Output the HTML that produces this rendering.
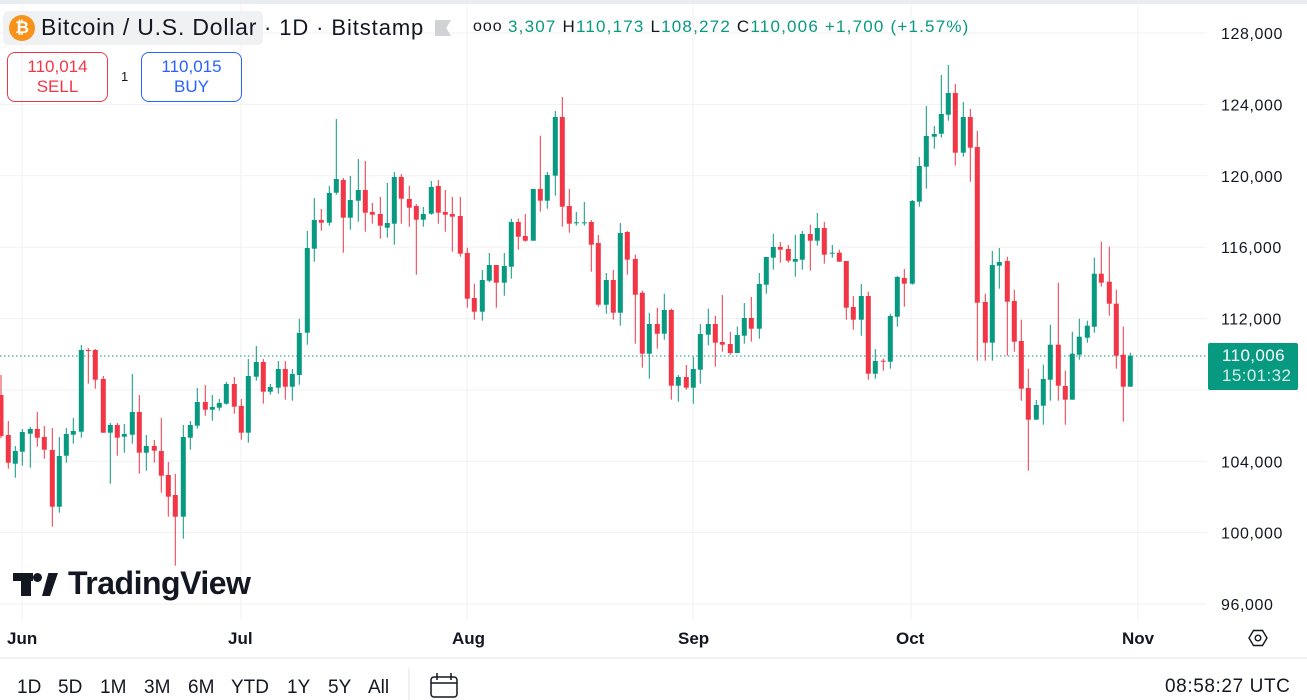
<!DOCTYPE html>
<html><head><meta charset="utf-8"><style>
body{margin:0;width:1307px;height:700px;overflow:hidden;background:#fff;font-family:"Liberation Sans",sans-serif;position:relative}
.abs{position:absolute;white-space:nowrap}
</style></head><body>
<svg id="c" width="1307" height="700" style="position:absolute;left:0;top:0"></svg>
<div class="abs" style="left:0;top:0;width:1307px;height:4px;background:#e9ecf1"></div>
<div class="abs" style="left:3px;top:11px;width:260px;height:34px;background:#f0f1f3;border-radius:5px"></div>
<div class="abs" style="left:9px;top:15px;width:26px;height:26px;border-radius:50%;background:#f7931a;color:#fff;font-weight:bold;font-size:17px;text-align:center;line-height:26px">₿</div>
<div class="abs" style="left:41px;top:14px;font-size:23px;letter-spacing:0.8px;color:#131722">Bitcoin / U.S. Dollar</div>
<div class="abs" style="left:264px;top:15px;font-size:22px;letter-spacing:0.9px;color:#131722">· 1D · Bitstamp</div>
<div class="abs" style="left:435px;top:20px;width:16px;height:16px;background:#d0d2d6;clip-path:polygon(0 0,100% 0,70% 50%,100% 100%,0 100%)"></div>
<div class="abs" style="left:473px;top:18px;font-size:16px;color:#131722;letter-spacing:1px">ooo</div>
<div class="abs" style="left:508px;top:17px;font-size:17px;letter-spacing:1.2px;color:#089981">3,307 <span style="color:#131722">H</span>110,173 <span style="color:#131722">L</span>108,272 <span style="color:#131722">C</span>110,006 +1,700 (+1.57%)</div>
<div class="abs" style="left:7px;top:52px;width:101px;height:50px;border:1px solid #f23645;border-radius:8px;color:#f23645;text-align:center;font-size:17px;line-height:20px;padding-top:4px;box-sizing:border-box">110,014<br>SELL</div>
<div class="abs" style="left:121px;top:69px;font-size:13px;color:#131722">1</div>
<div class="abs" style="left:141px;top:52px;width:101px;height:50px;border:1px solid #2962ff;border-radius:8px;color:#2962ff;text-align:center;font-size:17px;line-height:20px;padding-top:4px;box-sizing:border-box">110,015<br>BUY</div>
<div class="abs" style="left:1208px;top:343px;width:90px;height:47px;background:#089981;border-radius:2px;color:#fff;font-size:17px;letter-spacing:0.4px;line-height:20px;padding:3px 0 0 14px;box-sizing:border-box">110,006<br><span style="color:#d6f0eb">15:01:32</span></div>
<div class="abs" style="left:68px;top:565px;font-size:32px;font-weight:bold;color:#131722;letter-spacing:-0.5px">TradingView</div>
<div class="abs" style="left:13px;top:573px;width:20px;height:8px;background:#131722"></div>
<div class="abs" style="left:21px;top:573px;width:10px;height:23px;background:#131722"></div>
<div class="abs" style="left:33px;top:573px;width:9px;height:9px;border-radius:50%;background:#131722"></div>
<div class="abs" style="left:42px;top:573px;width:16px;height:23px;background:#131722;clip-path:polygon(40% 0,100% 0,50% 100%,0 100%)"></div>
<div class="abs" style="left:0;top:682px;font-size:19px;color:#131722">
<span class="abs" style="left:17px;top:-5px">1D</span><span class="abs" style="left:58px;top:-5px">5D</span><span class="abs" style="left:100px;top:-5px">1M</span><span class="abs" style="left:144px;top:-5px">3M</span><span class="abs" style="left:188px;top:-5px">6M</span><span class="abs" style="left:231px;top:-5px">YTD</span><span class="abs" style="left:287px;top:-5px">1Y</span><span class="abs" style="left:328px;top:-5px">5Y</span><span class="abs" style="left:368px;top:-5px">All</span></div>
<div class="abs" style="left:1165px;top:676px;font-size:19px;letter-spacing:0.6px;color:#131722">08:58:27 UTC</div>
<script>
const G='#089981',R='#f23645';
const segs=[
[0,330,[[3,'R',195,318,135,325],[25,'R',315,398,273,416],[46,'G',363,401,348,443],[67,'G',306,365,297,407],[91,'G',297,311,291,413],[112,'R',297,323,246,350],[133,'R',321,359,288,386],[157,'R',360,530,294,590],[178,'G',378,530,321,548],[199,'G',312,377,294,398],[220,'G',303,314,264,341],[244,'G',60,305,45,323],[265,'R',60,62,54,161],[286,'R',60,149,57,176],[310,'R',147,308,138,308],[331,'G',285,308,279,461],[352,'R',285,323,279,377],[373,'G',312,320,282,368],[397,'G',246,314,132,341],[418,'R',246,368,195,431],[439,'G',348,368,315,422],[463,'R',348,362,330,398],[484,'R',363,437,264,488],[505,'R',435,500,396,560],[526,'R',495,560,432,707],[550,'G',321,560,285,626],[571,'G',285,323,273,359],[592,'G',216,287,174,296],[616,'R',216,239,165,257],[637,'G',231,239,195,272],[658,'G',219,233,207,242],[679,'G',162,221,156,224],[703,'R',162,230,141,251],[724,'R',228,308,207,329],[745,'G',138,308,87,338]]],
[230,110,[[79,'G',756,800,708,812],[100,'R',756,845,747,881],[121,'G',831,845,822,854],[145,'G',777,833,753,851],[166,'R',777,830,753,869],[187,'G',792,830,777,872],[208,'G',669,795,627,824],[232,'G',414,668,363,704],[253,'G',330,416,264,455],[274,'R',330,338,297,362],[298,'G',249,338,228,347],[319,'G',207,248,27,254],[340,'R',210,323,204,428],[361,'G',270,323,198,359],[385,'G',240,272,147,335],[406,'R',240,308,153,365],[427,'R',306,314,279,341],[451,'R',312,347,261,386],[472,'G',339,353,219,383],[493,'G',201,341,186,404],[514,'R',201,266,192,341],[538,'R',267,293,228,350],[559,'R',288,329,282,494],[580,'G',312,329,291,350],[604,'G',231,311,213,314],[625,'R',228,308,210,341],[646,'R',306,314,240,365],[667,'R',312,320,261,425],[691,'R',318,431,261,440],[712,'R',429,566,413,593],[733,'R',564,605,521,629]]],
[460,90,[[67,'G',570,665,540,692],[88,'G',525,572,489,577],[109,'R',525,578,525,653],[133,'G',528,578,489,617],[154,'G',396,530,386,566],[175,'R',396,440,386,479],[196,'R',438,452,372,455],[220,'G',297,452,297,452],[241,'R',297,332,137,365],[262,'G',255,332,246,356],[286,'G',81,257,63,317],[307,'R',81,350,21,410],[328,'R',348,401,297,428],[349,'G',397,399,366,407],[373,'G',397,399,336,407],[394,'R',396,464,390,545],[415,'R',459,644,435,650],[439,'G',570,644,549,671],[460,'R',570,668,540,689],[481,'G',429,668,399,707],[502,'R',426,509,423,554],[526,'R',507,614,494,761],[547,'R',608,791,602,833],[568,'G',702,791,668,866],[592,'R',702,731,653,776],[613,'G',660,731,611,749],[634,'R',660,887,656,929],[655,'G',861,887,855,935],[679,'R',861,893,825,899],[700,'G',837,893,800,941]]],
[690,200,[[31,'G',402,509,372,551],[55,'G',372,404,326,436],[76,'R',372,428,347,500],[97,'R',426,434,285,455],[121,'R',432,459,396,464],[142,'G',405,459,380,459],[163,'G',354,407,309,431],[184,'R',354,386,291,425],[208,'G',252,386,219,416],[229,'G',171,254,171,281],[250,'G',141,173,101,209],[271,'R',141,149,126,188],[295,'R',147,182,135,188],[316,'G',177,185,104,230],[337,'G',102,179,93,209],[361,'R',102,122,74,212],[382,'G',84,122,39,137],[403,'R',84,164,66,191],[427,'G',158,160,135,173],[448,'R',158,185,149,185],[469,'R',183,323,183,359],[490,'R',321,359,288,389],[514,'G',288,359,252,407],[535,'R',288,521,275,539],[556,'G',483,521,447,536],[580,'R',482,484,476,512],[601,'G',348,485,341,506],[622,'G',231,350,228,380],[643,'R',234,251,207,320]]],
[900,60,[[37,'G',423,671,420,674],[58,'G',318,425,291,440],[79,'G',228,320,138,386],[103,'G',222,230,198,266],[124,'G',162,221,45,233],[145,'G',99,164,15,182],[166,'R',99,278,72,317],[190,'G',171,278,126,290],[211,'R',171,263,147,365],[232,'R',261,728,213,902],[256,'R',726,848,701,902],[277,'G',615,848,573,902],[298,'G',606,617,564,686],[322,'R',603,725,590,887],[343,'R',723,845,689,875],[364,'R',843,986,779,1022],[385,'R',984,1079,926,1232],[409,'G',1035,1079,1020,1079],[430,'G',957,1037,914,1094],[451,'G',854,959,794,1022],[475,'R',854,977,668,1022],[496,'R',978,1019,932,1094],[517,'G',881,1019,815,1019],[538,'G',830,884,776,899],[562,'G',797,833,782,848],[583,'G',641,800,593,818],[604,'R',641,668,545,680],[628,'R',665,731,560,767],[649,'R',731,887,689,926],[670,'R',884,980,800,1085],[691,'G',887,980,878,980]]]];
let s='';
const yp=p=>33+(128000-p)*0.017844;
for(let p=96000;p<=128000;p+=4000){const y=yp(p).toFixed(1);s+=`<line x1="0" x2="1207" y1="${y}" y2="${y}" stroke="#f0f1f3"/>`;}
[22,241,467,693,911,1138].forEach(x=>s+=`<line x1="${x}" x2="${x}" y1="4" y2="620" stroke="#f0f1f3"/>`);
s+=`<line x1="0" x2="1307" y1="658" y2="658" stroke="#e0e3eb"/><line x1="409" x2="409" y1="668" y2="700" stroke="#e0e3eb"/>`;
s+=`<line x1="0" x2="1207" y1="356" y2="356" stroke="#089981" stroke-dasharray="1.5,2.5"/>`;
for(const [ox,oy,arr] of segs)for(const [zx,c,bt,bb,wt,wb] of arr){
 const x=ox+zx/3,col=c=='G'?G:R;
 const t=oy+bt/3,b=Math.max(oy+bb/3,t+1);
 s+=`<rect x="${(x-0.5).toFixed(1)}" y="${(oy+wt/3).toFixed(1)}" width="1" height="${((wb-wt)/3).toFixed(1)}" fill="${col}"/>`;
 s+=`<rect x="${(x-2.5).toFixed(1)}" y="${t.toFixed(1)}" width="5" height="${(b-t).toFixed(1)}" fill="${col}"/>`;
}
for(let p=96000;p<=128000;p+=4000){if(p==108000)continue;s+=`<text x="1221" y="${(yp(p)+6).toFixed(1)}" font-size="16" letter-spacing="0.6" fill="#131722" font-family="Liberation Sans">${p.toLocaleString('en-US')}</text>`;}
[['Jun',7],['Jul',228],['Aug',452],['Sep',678],['Oct',896],['Nov',1122]].forEach(([t,x])=>s+=`<text x="${x}" y="644" font-size="17" font-weight="bold" fill="#131722" font-family="Liberation Sans">${t}</text>`);
s+=`<polygon points="1249,638 1253.5,630.5 1262.5,630.5 1267,638 1262.5,645.5 1253.5,645.5" fill="none" stroke="#131722" stroke-width="1.4"/><circle cx="1258" cy="638" r="2.8" fill="none" stroke="#131722" stroke-width="1.4"/>`;
s+=`<rect x="431" y="677" width="26" height="20" rx="3" fill="none" stroke="#131722" stroke-width="1.5"/><line x1="431" x2="457" y1="683" y2="683" stroke="#131722" stroke-width="1.5"/><line x1="437" x2="437" y1="673" y2="680" stroke="#131722" stroke-width="1.5"/><line x1="451" x2="451" y1="673" y2="680" stroke="#131722" stroke-width="1.5"/>`;
document.getElementById('c').innerHTML=s;
</script>
</body></html>
